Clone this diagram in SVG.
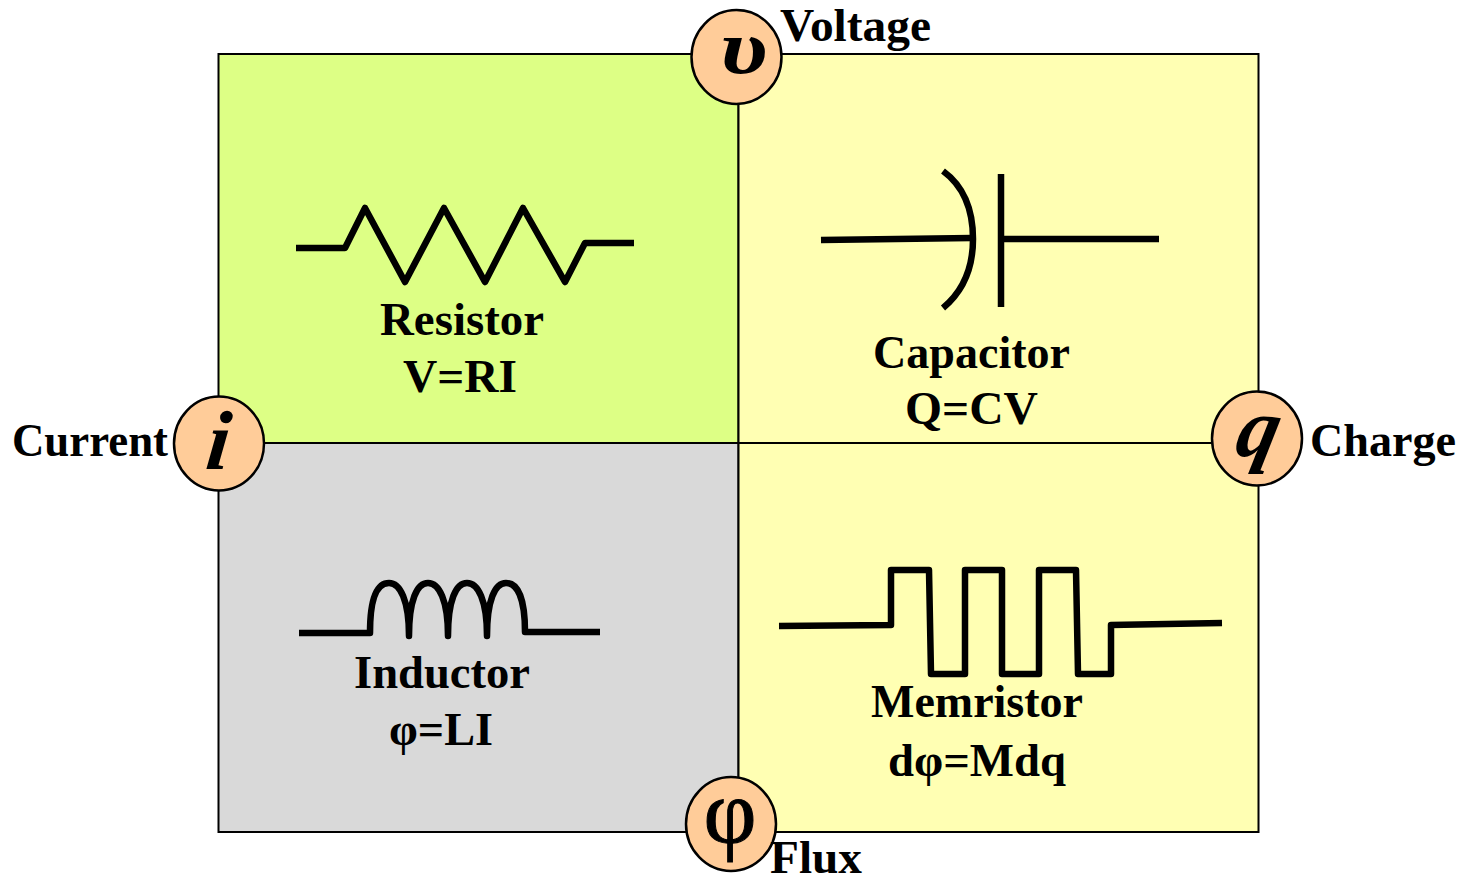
<svg xmlns="http://www.w3.org/2000/svg" width="1466" height="883" viewBox="0 0 1466 883">
<style>
.q{stroke:#000;stroke-width:2}
.w{fill:none;stroke:#000;stroke-width:6.500;stroke-linejoin:round}
.c{fill:#ffcc99;stroke:#000;stroke-width:2.500}
.t{font-family:"Liberation Serif",serif;font-weight:700;font-size:46px;fill:#000;text-anchor:middle}
.s{font-family:"Liberation Serif",serif;font-weight:700;font-style:italic;font-size:84px;fill:#000;text-anchor:middle}
.p{font-family:"Liberation Serif",serif;font-weight:400;font-size:92px;fill:#000;stroke:#000;stroke-width:1;text-anchor:middle}
</style>
<g id="quadrants">
<rect class="q" x="218.500" y="54" width="520" height="389" fill="#ddff85"/>
<rect class="q" x="738.500" y="54" width="520" height="389" fill="#ffffb3"/>
<rect class="q" x="218.500" y="443" width="520" height="389" fill="#d9d9d9"/>
<rect class="q" x="738.500" y="443" width="520" height="389" fill="#ffffb3"/>
</g>
<g id="connectors"></g>
<g id="resistor">
<path class="w" d="M296 248H345L365 208L405 282L444 208L485 282L523 208L565 282L585 243H634"/>
<text class="t" x="462" y="335" textLength="164" lengthAdjust="spacingAndGlyphs">Resistor</text>
<text class="t" x="460" y="392" textLength="114" lengthAdjust="spacingAndGlyphs">V=RI</text>
</g>
<g id="capacitor">
<path class="w" d="M821 240L972 238"/>
<path class="w" d="M943 171Q973 193 973 239Q973 283 943 308"/>
<path class="w" d="M1001 174V307M1001 239H1159"/>
<text class="t" x="971.500" y="368" textLength="197" lengthAdjust="spacingAndGlyphs">Capacitor</text>
<text class="t" x="971.500" y="424" textLength="133" lengthAdjust="spacingAndGlyphs">Q=CV</text>
</g>
<g id="inductor">
<path class="w" d="M299 633H370C370 595 378 583 389 583C400 583 409 600 409 636C409 600 417 583 428 583C439 583 448 600 448 636C448 600 456 583 467 583C478 583 487 600 487 636C487 600 495 583 506 583C517 583 525 597 525 632H600"/>
<text class="t" x="442" y="688" textLength="176" lengthAdjust="spacingAndGlyphs">Inductor</text>
<text class="t" x="441" y="745" textLength="104" lengthAdjust="spacingAndGlyphs">φ=LI</text>
</g>
<g id="memristor">
<path class="w" d="M779 626L891 625V570H929L931 674H965V570H1002V674H1039V570H1076L1078 674H1111V625L1222 623"/>
<text class="t" x="977" y="717" textLength="212" lengthAdjust="spacingAndGlyphs">Memristor</text>
<text class="t" x="977" y="776" textLength="178" lengthAdjust="spacingAndGlyphs">dφ=Mdq</text>
</g>
<g id="node-v"><ellipse class="c" cx="736.500" cy="57" rx="45" ry="47"/><text class="s" transform="translate(744 73) scale(1.150 .900)">υ</text><text class="t" x="855.500" y="41" textLength="151" lengthAdjust="spacingAndGlyphs">Voltage</text></g>
<g id="node-i"><ellipse class="c" cx="219" cy="443.500" rx="45" ry="47"/><text class="s" transform="translate(216 469) skewX(-6)">i</text><text class="t" x="90" y="456" textLength="156" lengthAdjust="spacingAndGlyphs">Current</text></g>
<g id="node-q"><ellipse class="c" cx="1257" cy="438.500" rx="45" ry="47"/><text class="s" transform="translate(1254 456) skewX(-12)">q</text><text class="t" x="1383" y="456" textLength="146" lengthAdjust="spacingAndGlyphs">Charge</text></g>
<g id="node-phi"><ellipse class="c" cx="731" cy="824" rx="45" ry="47"/><text class="p" x="730" y="843">φ</text><text class="t" x="816" y="873" textLength="92" lengthAdjust="spacingAndGlyphs">Flux</text></g>
</svg>
